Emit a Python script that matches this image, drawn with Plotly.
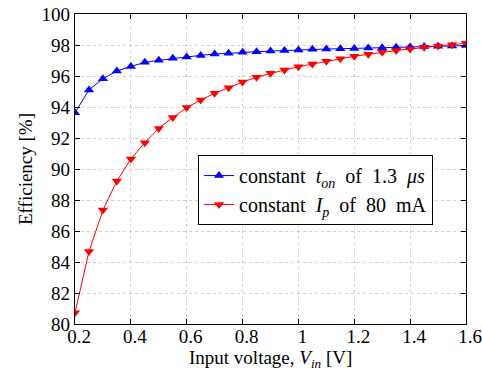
import plotly.graph_objects as go

vin = [0.2, 0.25, 0.3, 0.35, 0.4, 0.45, 0.5, 0.55, 0.6, 0.65, 0.7, 0.75, 0.8, 0.85,
       0.9, 0.95, 1.0, 1.05, 1.1, 1.15, 1.2, 1.25, 1.3, 1.35, 1.4, 1.45, 1.5, 1.55, 1.6]

eff_ton = [93.63, 95.10, 95.83, 96.32, 96.62, 96.88, 97.01, 97.14, 97.23, 97.33, 97.42, 97.46,
           97.53, 97.57, 97.61, 97.65, 97.68, 97.72, 97.74, 97.76, 97.78, 97.80, 97.83,
           97.85, 97.87, 97.90, 97.92, 97.94, 97.96]

eff_ip = [80.73, 84.67, 87.35, 89.23, 90.65, 91.70, 92.62, 93.33, 93.96, 94.45, 94.88, 95.25,
          95.61, 95.92, 96.17, 96.39, 96.60, 96.77, 96.95, 97.12, 97.27, 97.40, 97.53,
          97.64, 97.74, 97.85, 97.94, 98.02, 98.11]

x_ticks = [0.2, 0.4, 0.6, 0.8, 1.0, 1.2, 1.4, 1.6]
x_ticklabels = ["0.2", "0.4", "0.6", "0.8", "1", "1.2", "1.4", "1.6"]
y_ticks = [80, 82, 84, 86, 88, 90, 92, 94, 96, 98, 100]

FONT = "Liberation Serif, Times New Roman, DejaVu Serif, serif"
SP = "&nbsp; "

fig = go.Figure()
fig.add_trace(go.Scatter(
    x=vin, y=eff_ton, mode="lines+markers",
    name="constant" + SP + "<i>t</i><sub><i>on</i></sub>" + SP + "of" + SP + "1.3" + SP + "<i>μs</i>",
    line=dict(color="#0000ff", width=1),
    marker=dict(symbol="triangle-up", size=9, color="#0000ff"),
))
fig.add_trace(go.Scatter(
    x=vin, y=eff_ip, mode="lines+markers",
    name="constant" + SP + "<i>I</i><sub><i>p</i></sub>" + SP + "of" + SP + "80" + SP + "mA",
    line=dict(color="#ff0000", width=1),
    marker=dict(symbol="triangle-down", size=9, color="#ff0000"),
))

axis_common = dict(
    showline=True, linecolor="black", linewidth=1.3, mirror="ticks",
    ticks="inside", ticklen=5, tickcolor="black", tickwidth=1,
    showgrid=True, gridcolor="#d0d0d0", griddash="dot", gridwidth=1,
    zeroline=False, automargin=False,
    tickfont=dict(family=FONT, size=19, color="black"),
)

fig.update_xaxes(
    range=[0.2, 1.6], tickvals=x_ticks, ticktext=x_ticklabels,
    ticklabelshift=4, ticklabelstandoff=-5,
    **axis_common,
)
fig.update_yaxes(
    range=[80, 100], tickvals=y_ticks,
    **axis_common,
)

fig.add_annotation(
    text="Input voltage, <i>V</i><sub><i>in</i></sub> [V]",
    x=0.5, y=0, xref="paper", yref="paper", xanchor="center", yanchor="middle",
    yshift=-35, showarrow=False, font=dict(family=FONT, size=19, color="black"),
)
fig.add_annotation(
    text="Efficiency [%]",
    x=0, y=0.5, xref="paper", yref="paper", xanchor="center", yanchor="middle",
    xshift=-50, textangle=-90, showarrow=False, font=dict(family=FONT, size=19, color="black"),
)

fig.update_layout(
    width=482, height=370,
    margin=dict(l=75, r=16, t=14, b=46, autoexpand=False),
    paper_bgcolor="white", plot_bgcolor="white",
    font=dict(family=FONT, size=19, color="black"),
    showlegend=True,
    legend=dict(
        x=0.3146, y=0.545, xanchor="left", yanchor="top",
        bgcolor="white", bordercolor="black", borderwidth=1,
        font=dict(family=FONT, size=20, color="black"),
        itemwidth=30, tracegroupgap=0,
    ),
)

fig.write_html(
    "out.html",
    config={"displayModeBar": False},
    post_script="document.body.style.margin='0';document.body.style.padding='0';",
)
